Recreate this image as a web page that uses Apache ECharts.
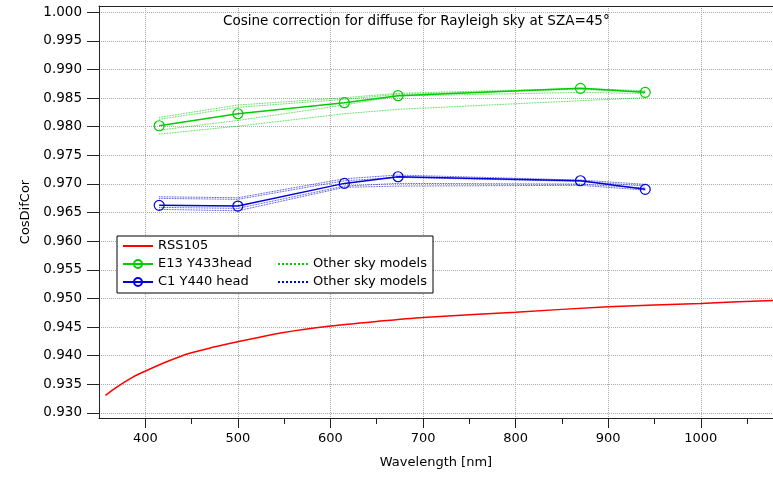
<!DOCTYPE html>
<html lang="en">
<head>
    <meta charset="UTF-8">
    <title>CosDifCor</title>
    <script src="https://cdn.jsdelivr.net/npm/echarts/dist/echarts.min.js"></script>
    <style>
        body { margin: 0; background: #fff; }
    </style>
</head>
<body>
<div id="main" style="width: 773px;height:477px;"></div>
</body>
<script>
    // wavelengths of the two radiometer heads
    var siteWl = [415, 500, 615, 673, 870, 940];
    var e13Main = [0.98017, 0.98227, 0.98420, 0.98542, 0.98671, 0.98601];
    var c1Main = [0.96626, 0.96614, 0.97010, 0.97126, 0.97056, 0.96906];

    // other sky models (dotted)
    var e13Other1 = [0.98164, 0.98379, 0.98507, 0.98584, 0.98671, 0.98629];
    var e13Other2 = [0.98129, 0.98339, 0.98479, 0.98566, 0.98654, 0.98601];
    var e13Other3 = [0.97941, 0.98110, 0.98380, 0.98537, 0.98601, 0.98580];
    var e13Other4 = [0.97871, 0.98010, 0.98227, 0.98304, 0.98455, 0.98507];
    var c1Other1 = [0.96776, 0.96759, 0.97091, 0.97156, 0.97068, 0.96993];
    var c1Other2 = [0.96748, 0.96731, 0.97056, 0.97115, 0.97045, 0.96963];
    var c1Other3 = [0.96591, 0.96573, 0.96963, 0.97010, 0.96998, 0.96928];
    var c1Other4 = [0.96556, 0.96531, 0.96941, 0.96963, 0.96976, 0.96893];

    // RSS105 curve
    var rssWl = [357, 366, 375, 387, 400, 423, 447, 474, 500, 548, 600, 650, 700, 800, 900, 1000, 1078];
    var rssVal = [0.93304, 0.93413, 0.93512, 0.93629, 0.93729, 0.93892, 0.94038, 0.94149, 0.94241, 0.94399, 0.94516, 0.94598, 0.94668, 0.94760, 0.94853, 0.94913, 0.94965];

    var yTicks = [0.930, 0.935, 0.940, 0.945, 0.950, 0.955, 0.960, 0.965, 0.970, 0.975, 0.980, 0.985, 0.990, 0.995, 1.000];
    var xMajor = [400, 500, 600, 700, 800, 900, 1000];
    var xMinor = [450, 550, 650, 750, 850, 950, 1050];

    var green = '#00cc00';
    var blue = '#0000dd';
    var red = '#ff0000';
    var font = 'DejaVu Sans';

    function pairs(xs, ys) {
        var out = [];
        for (var i = 0; i < xs.length; i++) {
            out.push([xs[i], ys[i]]);
        }
        return out;
    }

    var series = [
        {
            name: 'RSS105',
            type: 'line',
            smooth: 0.3,
            symbol: 'none',
            lineStyle: {color: red, width: 1.5},
            itemStyle: {color: red},
            data: pairs(rssWl, rssVal)
        }
    ];

    var e13Others = [e13Other1, e13Other2, e13Other3, e13Other4];
    var c1Others = [c1Other1, c1Other2, c1Other3, c1Other4];
    for (var i = 0; i < e13Others.length; i++) {
        series.push({
            name: 'Other sky models (E13)',
            type: 'line',
            symbol: 'none',
            lineStyle: {color: green, width: 0.8, type: 'dotted'},
            itemStyle: {color: green},
            data: pairs(siteWl, e13Others[i])
        });
    }
    for (var i = 0; i < c1Others.length; i++) {
        series.push({
            name: 'Other sky models (C1)',
            type: 'line',
            symbol: 'none',
            lineStyle: {color: blue, width: 0.8, type: 'dotted'},
            itemStyle: {color: blue},
            data: pairs(siteWl, c1Others[i])
        });
    }
    series.push({
        name: 'E13 Y433head',
        type: 'line',
        symbol: 'circle',
        symbolSize: 10,
        lineStyle: {color: green, width: 1.5},
        itemStyle: {color: 'rgba(0,0,0,0)', borderColor: green, borderWidth: 1.2},
        data: pairs(siteWl, e13Main)
    });
    series.push({
        name: 'C1 Y440 head',
        type: 'line',
        symbol: 'circle',
        symbolSize: 10,
        lineStyle: {color: blue, width: 1.5},
        itemStyle: {color: 'rgba(0,0,0,0)', borderColor: blue, borderWidth: 1.2},
        data: pairs(siteWl, c1Main)
    });

    var legendText = {fontFamily: font, fontSize: 13, color: '#000', lineHeight: 14};

    var myChart = echarts.init(document.getElementById('main'));
    var option = {
        animation: false,
        textStyle: {fontFamily: font},
        title: {
            text: 'Cosine correction for diffuse for Rayleigh sky at SZA=45°',
            left: 223,
            top: 14,
            padding: 0,
            textStyle: {fontFamily: font, fontSize: 13.5, fontWeight: 'normal', color: '#000'}
        },
        grid: {
            left: 99,
            right: 0,
            top: 6,
            bottom: 59
        },
        graphic: [
            {
                type: 'rect',
                z: 3,
                shape: {x: 117, y: 236, width: 316, height: 57},
                style: {fill: '#fff', stroke: '#000', lineWidth: 1}
            }
        ],
        legend: [
            {
                orient: 'vertical',
                left: 117,
                top: 236,
                padding: [3, 5, 3, 5],
                itemGap: 4,
                itemWidth: 30,
                itemHeight: 10,
                textStyle: legendText,
                data: [
                    {name: 'RSS105', itemStyle: {opacity: 0}},
                    {name: 'E13 Y433head'},
                    {name: 'C1 Y440 head'}
                ]
            },
            {
                orient: 'vertical',
                left: 272,
                top: 254,
                padding: [3, 5, 3, 5],
                itemGap: 4,
                itemWidth: 30,
                itemHeight: 10,
                textStyle: legendText,
                formatter: function (name) {
                    return 'Other sky models';
                },
                data: [
                    {name: 'Other sky models (E13)', itemStyle: {opacity: 0}},
                    {name: 'Other sky models (C1)', itemStyle: {opacity: 0}}
                ]
            }
        ],
        xAxis: [
            {
                type: 'value',
                min: 350,
                max: 1078,
                position: 'bottom',
                name: 'Wavelength [nm]',
                nameLocation: 'middle',
                nameGap: 38,
                nameTextStyle: {fontFamily: font, fontSize: 13, color: '#000'},
                axisLine: {show: true, lineStyle: {color: '#222', width: 1}},
                axisTick: {show: true, customValues: xMajor, length: 10, lineStyle: {color: '#222'}},
                axisLabel: {
                    customValues: xMajor,
                    margin: 14,
                    fontFamily: font,
                    fontSize: 13,
                    color: '#000',
                    formatter: function (v) {
                        return String(v);
                    }
                },
                splitLine: {show: true, lineStyle: {color: '#aaa', type: 'dotted'}}
            },
            {
                type: 'value',
                min: 350,
                max: 1078,
                position: 'bottom',
                axisLine: {show: false},
                axisTick: {show: true, customValues: xMinor, length: 6, lineStyle: {color: '#222'}},
                axisLabel: {show: false},
                splitLine: {show: false}
            },
            {
                type: 'value',
                min: 350,
                max: 1078,
                position: 'top',
                axisLine: {show: true, lineStyle: {color: '#222', width: 1}},
                axisTick: {show: false},
                axisLabel: {show: false},
                splitLine: {show: false}
            }
        ],
        yAxis: [
            {
                type: 'value',
                min: 0.9291,
                max: 1.0011,
                name: 'CosDifCor',
                nameLocation: 'middle',
                nameGap: 60,
                nameTextStyle: {fontFamily: font, fontSize: 13, color: '#000'},
                axisLine: {show: true, lineStyle: {color: '#222', width: 1}},
                axisTick: {show: true, customValues: yTicks, length: 12, lineStyle: {color: '#222'}},
                axisLabel: {
                    customValues: yTicks,
                    margin: 17,
                    fontFamily: font,
                    fontSize: 13.5,
                    color: '#000',
                    formatter: function (v) {
                        return v.toFixed(3);
                    }
                },
                splitLine: {show: true, lineStyle: {color: '#aaa', type: 'dotted'}}
            }
        ],
        series: series
    };
    myChart.setOption(option);
</script>
</html>
